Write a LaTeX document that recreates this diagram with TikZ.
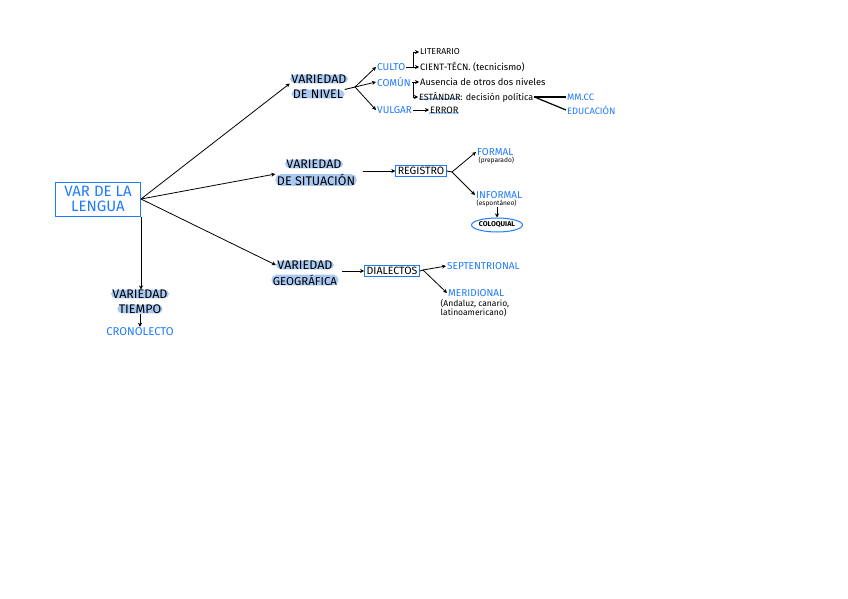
\documentclass[tikz,border=0pt]{standalone}
\usepackage{fontspec}
\setmainfont{Fira Sans}
\usetikzlibrary{arrows.meta,shapes.geometric,calc}
\definecolor{bl}{HTML}{1E7BFF}
\definecolor{hl}{HTML}{A9C9F2}
\tikzset{
  arr/.style={-{Stealth[length=4pt,width=4pt]},line width=0.8pt},
  ln/.style={line width=0.9pt},
  hlt/.style={fill=hl,rounded corners=5pt,inner xsep=1.5pt,inner ysep=0pt,font=\fontsize{12.5}{13}\selectfont},
  btxt/.style={text=bl,inner sep=1pt,anchor=west,font=\fontsize{10}{11}\selectfont},
  ktxt/.style={inner sep=1pt,anchor=west,font=\fontsize{9.3}{10}\selectfont},
  tiny/.style={inner sep=0.5pt,anchor=west,font=\fontsize{6.6}{7}\selectfont},
  bbox/.style={draw=bl,line width=1pt,inner xsep=2pt,inner ysep=2pt,font=\fontsize{10.6}{11}\selectfont},
  uline/.style={path picture={\fill[hl] (path picture bounding box.south west) rectangle ([yshift=2pt]path picture bounding box.south east);}}
}
\begin{document}
\begin{tikzpicture}[x=1pt,y=-1pt]
\useasboundingbox (0,0) rectangle (848,599);
\fill[white] (0,0) rectangle (848,599);

% root
\node[draw=bl,line width=1pt,text=bl,align=center,minimum width=85,minimum height=34,inner sep=1pt,font=\fontsize{15}{15}\selectfont] (var) at (98,199) {VAR DE LA\\LENGUA};

% varieties
\node[hlt] (niv1) at (319,79) {VARIEDAD};
\node[hlt] (niv2) at (318,94) {DE NIVEL};
\node[hlt] (sit1) at (314,164) {VARIEDAD};
\node[hlt] (sit2) at (316,180) {DE SITUACIÓN};
\node[hlt] (geo1) at (305,265) {VARIEDAD};
\node[hlt,font=\fontsize{11.5}{12}\selectfont] (geo2) at (305,280) {GEOGRÁFICA};
\node[hlt] (t1) at (140,294) {VARIEDAD};
\node[hlt] (t2) at (140,309) {TIEMPO};
\node[text=bl,inner sep=1pt,font=\fontsize{11.3}{12}\selectfont] (crono) at (140,332) {CRONOLECTO};

\draw[arr] (var.east) -- (niv1.south west);
\draw[arr] (var.east) -- (sit2.north west);
\draw[arr] (var.east) -- (geo1.west);
\draw[arr] (var.south east) -- (var.south east |- t1.north);
\draw[arr] (t2.south) -- (crono.north);

% level branch
\node[btxt] (culto) at (376,67) {CULTO};
\node[btxt] (comun) at (376,82) {COMÚN};
\node[btxt] (vulgar) at (376,110) {VULGAR};
\coordinate (nf) at (355,87);
\draw[ln] (niv2.north east) -- (nf);
\draw[arr] (nf) -- (culto.west);
\draw[arr] (nf) -- (comun.west);
\draw[arr] (nf) -- (vulgar.west);

\node[ktxt,font=\fontsize{8.6}{9}\selectfont] (lit) at (419,52) {LITERARIO};
\node[ktxt] (cient) at (419,67) {CIENT-TÉCN. (tecnicismo)};
\coordinate (cb) at (413,67);
\draw[ln] (culto.east) -- (cb);
\draw[arr] (cb) |- (lit.west);
\draw[arr] (cb) -- (cient.west);

\node[ktxt] (aus) at (419,82) {Ausencia de otros dos niveles};
\node[ktxt,font=\fontsize{9}{10}\selectfont] (est) at (418,97) {\tikz[baseline]{\node[uline,inner sep=0pt,anchor=base] {ESTÁNDAR};}: decisión política};
\coordinate (cm) at (413,82);
\draw[ln] (comun.east) -- (cm);
\draw[arr] (cm) -- (aus.west);
\draw[arr] (cm) |- (est.west);

\node[btxt,font=\fontsize{9.3}{10}\selectfont] (mm) at (566,97) {MM.CC};
\node[btxt,font=\fontsize{9.3}{10}\selectfont] (edu) at (566,110) {EDUCACIÓN};
\draw[line width=1.2pt] (est.east) -- (mm.west);
\draw[line width=1.2pt] (est.east) -- (edu.west);

\node[ktxt,uline] (error) at (429,110) {ERROR};
\draw[arr] (vulgar.east) -- (error.west);

% situation branch
\node[bbox] (reg) at (421,171) {REGISTRO};
\draw[arr] ([xshift=6pt]reg.west -| sit2.east) -- (reg.west);
\node[btxt] (formal) at (476,152) {FORMAL};
\node[tiny] (prep) at (478,160) {(preparado)};
\node[btxt] (informal) at (475,195) {INFORMAL};
\node[tiny] (esp) at (476,203) {(espontáneo)};
\coordinate (rf) at (452,172);
\draw[ln] (reg.east) -- (rf);
\draw[arr] (rf) -- (formal.west);
\draw[arr] (rf) -- (informal.west);
\node[ellipse,draw=bl,line width=1pt,inner sep=0pt,minimum width=48,minimum height=14,font=\bfseries\fontsize{7}{7}\selectfont] (colo) at (497,225) {COLOQUIAL};
\draw[arr] (esp.south -| colo.north) -- (colo.north);

% geographic branch
\node[bbox] (dia) at (392,271) {DIALECTOS};
\draw[arr] ([xshift=3pt]dia.west -| geo2.east) -- (dia.west);
\node[btxt] (sep) at (446,266) {SEPTENTRIONAL};
\node[btxt] (mer) at (447,293) {MERIDIONAL};
\node[tiny,font=\fontsize{8.5}{9.5}\selectfont,align=left] (and) at (440,308) {(Andaluz, canario,\\latinoamericano)};
\coordinate (df) at (423,270);
\draw[ln] (dia.east) -- (df);
\draw[arr] (df) -- (sep.west);
\draw[arr] (df) -- (mer.west);
\end{tikzpicture}
\end{document}
